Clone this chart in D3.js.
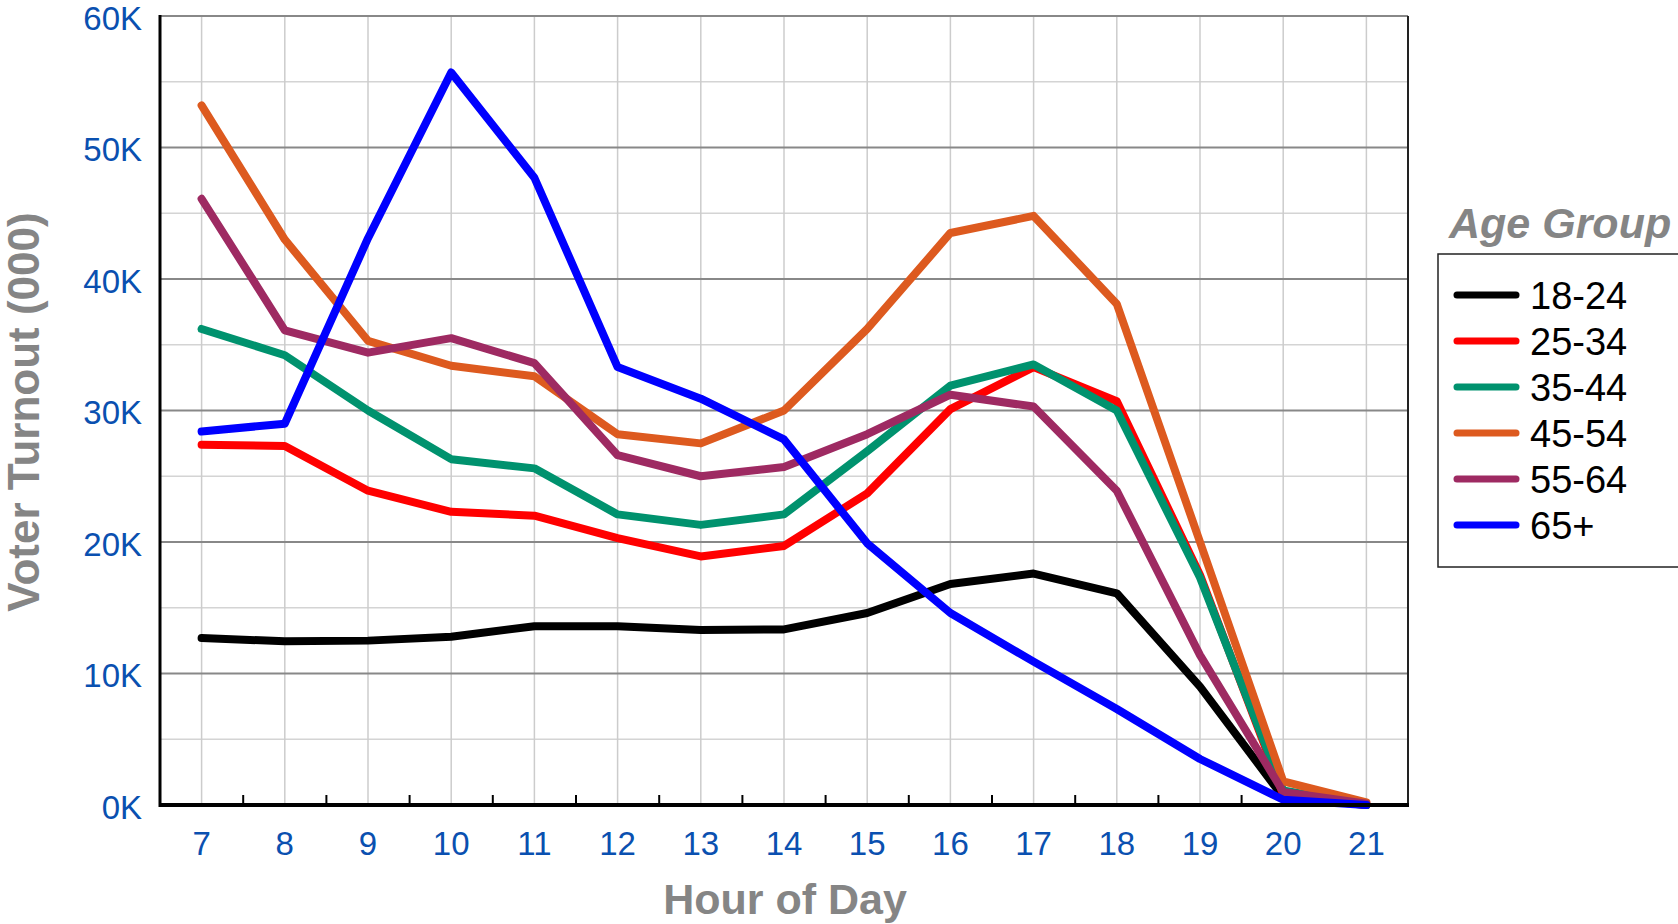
<!DOCTYPE html>
<html><head><meta charset="utf-8">
<script src="https://cdn.jsdelivr.net/npm/d3@7"></script>
<style>body{margin:0;background:#fff}svg{display:block}text{font-family:"Liberation Sans",Arial,sans-serif}</style>
</head><body>
<svg id="c" width="1678" height="924"></svg>
<script>
const hours = [7,8,9,10,11,12,13,14,15,16,17,18,19,20,21];
const seriesNames = ["18-24","25-34","35-44","45-54","55-64","65+"];
const colors = ["#000000","#ff0000","#00926e","#dd5a1f","#9e2a62","#0000ff"];
const s1824 = [12.7,12.45,12.5,12.8,13.6,13.6,13.3,13.35,14.6,16.8,17.6,16.1,9.0,0.6,0];
const s2534 = [27.4,27.3,23.9,22.3,22.0,20.3,18.9,19.7,23.7,30.1,33.3,30.7,17.5,0.8,0];
const s3544 = [36.2,34.2,30.0,26.3,25.6,22.1,21.3,22.1,26.9,31.9,33.5,30.0,17.3,1.1,0];
const s4554 = [53.2,43.0,35.3,33.4,32.6,28.2,27.5,30.0,36.2,43.5,44.8,38.1,20.0,1.8,0.2];
const s5564 = [46.1,36.1,34.4,35.5,33.6,26.6,25.0,25.7,28.2,31.2,30.3,23.9,11.4,1.0,0.1];
const s65 = [28.4,29.0,43.1,55.7,47.7,33.3,30.9,27.8,19.9,14.6,10.9,7.3,3.5,0.4,0];
const seriesValues = [s1824,s2534,s3544,s4554,s5564,s65];
const yTicks = [0,10,20,30,40,50,60];
const yTickLabels = ["0K","10K","20K","30K","40K","50K","60K"];

const svg = d3.select("#c");
const L=160, R=1408, T=16, B=805;
const x = d3.scaleLinear().domain([6.5,21.5]).range([L,R]);
const y = d3.scaleLinear().domain([0,60]).range([B,T]);

svg.append("g").selectAll("line").data(d3.range(5,60,10)).join("line")
  .attr("x1",L).attr("x2",R).attr("y1",d=>y(d)).attr("y2",d=>y(d))
  .attr("stroke","#d4d4d4").attr("stroke-width",1.5);
svg.append("g").selectAll("line").data(hours).join("line")
  .attr("x1",d=>x(d)).attr("x2",d=>x(d)).attr("y1",T).attr("y2",B)
  .attr("stroke","#cccccc").attr("stroke-width",1.5);
svg.append("g").selectAll("line").data(yTicks.filter(d=>d>0)).join("line")
  .attr("x1",L).attr("x2",R).attr("y1",d=>y(d)).attr("y2",d=>y(d))
  .attr("stroke","#888888").attr("stroke-width",2);
svg.append("line").attr("x1",R).attr("x2",R).attr("y1",T).attr("y2",B).attr("stroke","#222").attr("stroke-width",2);

svg.append("g").selectAll("line").data(d3.range(7.5,21.5,1)).join("line")
  .attr("x1",d=>x(d)).attr("x2",d=>x(d)).attr("y1",B).attr("y2",B-10)
  .attr("stroke","#000").attr("stroke-width",2);

const line = d3.line().x((d,i)=>x(hours[i])).y(d=>y(d));
svg.append("g").selectAll("path").data(seriesValues).join("path")
  .attr("d",line).attr("fill","none")
  .attr("stroke",(d,i)=>colors[i]).attr("stroke-width",8)
  .attr("stroke-linejoin","round").attr("stroke-linecap","round");

svg.append("line").attr("x1",L).attr("x2",L).attr("y1",T-1).attr("y2",B+2).attr("stroke","#000").attr("stroke-width",3);
svg.append("line").attr("x1",L-1).attr("x2",R+1).attr("y1",B).attr("y2",B).attr("stroke","#000").attr("stroke-width",4);

svg.append("g").selectAll("text").data(yTicks).join("text")
  .attr("x",142).attr("y",d=>y(d)).attr("dy","0.41em").attr("text-anchor","end")
  .attr("font-size",33).attr("fill","#0a50b0").text((d,i)=>yTickLabels[i]);
svg.append("g").selectAll("text").data(hours).join("text")
  .attr("x",d=>x(d)).attr("y",855).attr("text-anchor","middle")
  .attr("font-size",33).attr("fill","#0a50b0").text(d=>d);

svg.append("text").attr("x",785).attr("y",914).attr("text-anchor","middle")
  .attr("font-size",43).attr("font-weight","bold").attr("fill","#858585").text("Hour of Day");
svg.append("text").attr("transform","translate(39,412) rotate(-90)").attr("text-anchor","middle")
  .attr("font-size",44).attr("font-weight","bold").attr("fill","#858585").text("Voter Turnout (000)");

svg.append("text").attr("x",1449).attr("y",238).attr("font-size",43).attr("font-weight","bold")
  .attr("font-style","italic").attr("fill","#858585").text("Age Group");
svg.append("rect").attr("x",1438).attr("y",254).attr("width",260).attr("height",313)
  .attr("fill","#fff").attr("stroke","#222").attr("stroke-width",1.5);
const lg = svg.append("g").selectAll("g").data(seriesNames).join("g")
  .attr("transform",(d,i)=>`translate(0,${295+i*46})`);
lg.append("line").attr("x1",1457).attr("x2",1516).attr("stroke",(d,i)=>colors[i])
  .attr("stroke-width",7).attr("stroke-linecap","round");
lg.append("text").attr("x",1530).attr("dy","0.36em").attr("font-size",38).attr("fill","#000").text(d=>d);
</script>
</body></html>
